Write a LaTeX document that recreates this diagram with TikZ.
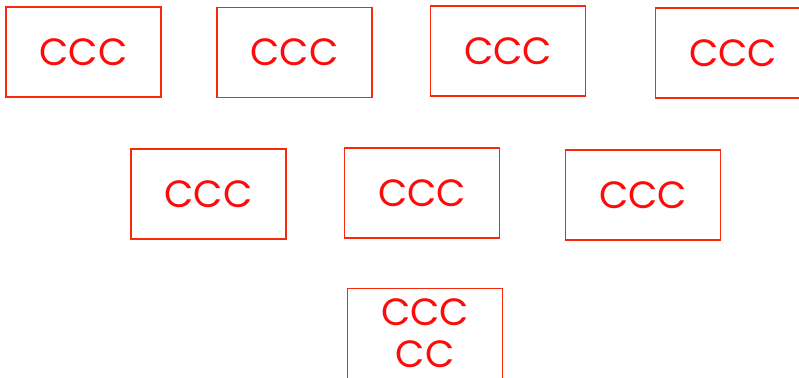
\documentclass[tikz,border=0pt]{standalone}
\usepackage{fontspec}
\setmainfont{Poppins}
\usetikzlibrary{positioning}
\definecolor{boxRed}{RGB}{250,40,10}
\definecolor{textRed}{RGB}{255,10,10}

\begin{document}
\begin{tikzpicture}[
  x=1pt, y=-1pt,
  box/.style={
    draw=boxRed,
    line width=1.6pt,
    text=textRed,
    align=center,
    inner sep=0pt,
    minimum width=155pt,
    minimum height=90pt,
    font=\fontsize{38}{42}\selectfont,
  },
]
  \clip (0,0) rectangle (799,377);
  \useasboundingbox (0,0) rectangle (799,377);

  % top row
  \node[box] (b1) at (83.5,52) {CCC};
  \node[box] (b2) at (294.5,52.5) {CCC};
  \node[box] (b3) at (508,51) {CCC};
  \node[box] (b4) at (733,53) {CCC};

  % middle row
  \node[box] (b5) at (208.5,194) {CCC};
  \node[box] (b6) at (422,193) {CCC};
  \node[box] (b7) at (643,195) {CCC};

  % bottom
  \node[box] (b8) at (425,333.5) {CCC\\CC};

\end{tikzpicture}
\end{document}
